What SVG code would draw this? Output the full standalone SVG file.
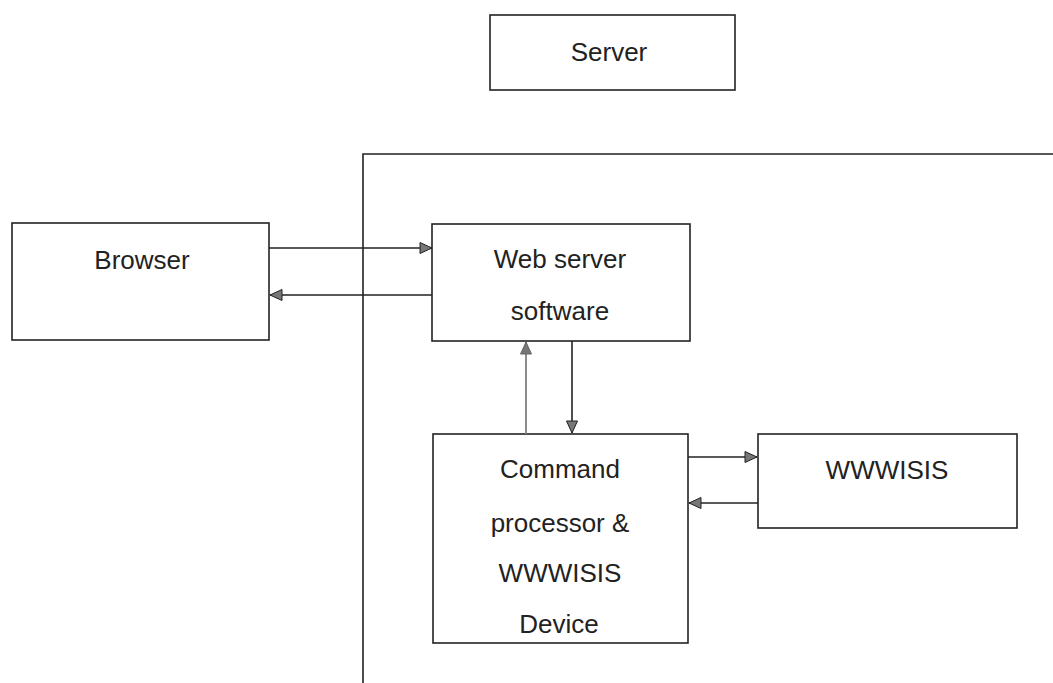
<svg xmlns="http://www.w3.org/2000/svg" width="1053" height="683" viewBox="0 0 1053 683">
  <style>
    .box { fill: #ffffff; stroke: #222222; stroke-width: 1.6; }
    .lbl { font-family: "Liberation Sans", Arial, sans-serif; font-size: 26px; fill: #222222; text-anchor: middle; }
    .conn { fill: none; stroke: #222222; stroke-width: 1.6; }
    .conn-gray { fill: none; stroke: #808080; stroke-width: 1.8; }
    .frame { fill: none; stroke: #222222; stroke-width: 1.6; }
  </style>
  <defs>
    <marker id="ah" markerUnits="userSpaceOnUse" markerWidth="16" markerHeight="14" refX="13" refY="7" orient="auto">
      <path d="M1,1.5 L13,7 L1,12.5 Z" fill="#777777" stroke="#222222" stroke-width="1"/>
    </marker>
    <marker id="ahg" markerUnits="userSpaceOnUse" markerWidth="16" markerHeight="14" refX="13" refY="7" orient="auto">
      <path d="M1,1.5 L13,7 L1,12.5 Z" fill="#777777" stroke="#666666" stroke-width="1"/>
    </marker>
  </defs>
  <rect width="1053" height="683" fill="#ffffff"/>

  <g id="frame">
    <path class="frame" d="M1053,154 L363,154 L363,683"/>
  </g>

  <g id="server">
    <rect class="box" x="490" y="15" width="245" height="75"/>
    <text class="lbl" x="609" y="61">Server</text>
  </g>

  <g id="browser">
    <rect class="box" x="12" y="223" width="257" height="117"/>
    <text class="lbl" x="142" y="269">Browser</text>
  </g>

  <g id="webserver">
    <rect class="box" x="432" y="224" width="258" height="117"/>
    <text class="lbl" x="560" y="268">Web server</text>
    <text class="lbl" x="560" y="320">software</text>
  </g>

  <g id="command">
    <rect class="box" x="433" y="434" width="255" height="209"/>
    <text class="lbl" x="560" y="478">Command</text>
    <text class="lbl" x="560" y="532">processor &amp;</text>
    <text class="lbl" x="560" y="582">WWWISIS</text>
    <text class="lbl" x="559" y="633">Device</text>
  </g>

  <g id="wwwisis">
    <rect class="box" x="758" y="434" width="259" height="94"/>
    <text class="lbl" x="887" y="479">WWWISIS</text>
  </g>

  <g id="connectors">
    <line class="conn" x1="269" y1="248" x2="432" y2="248" marker-end="url(#ah)"/>
    <line class="conn" x1="432" y1="295" x2="270" y2="295" marker-end="url(#ah)"/>
    <line class="conn-gray" x1="526" y1="434" x2="526" y2="342" marker-end="url(#ahg)"/>
    <line class="conn" x1="572" y1="341" x2="572" y2="433" marker-end="url(#ah)"/>
    <line class="conn" x1="688" y1="457" x2="757" y2="457" marker-end="url(#ah)"/>
    <line class="conn" x1="758" y1="503" x2="689" y2="503" marker-end="url(#ah)"/>
  </g>
</svg>
